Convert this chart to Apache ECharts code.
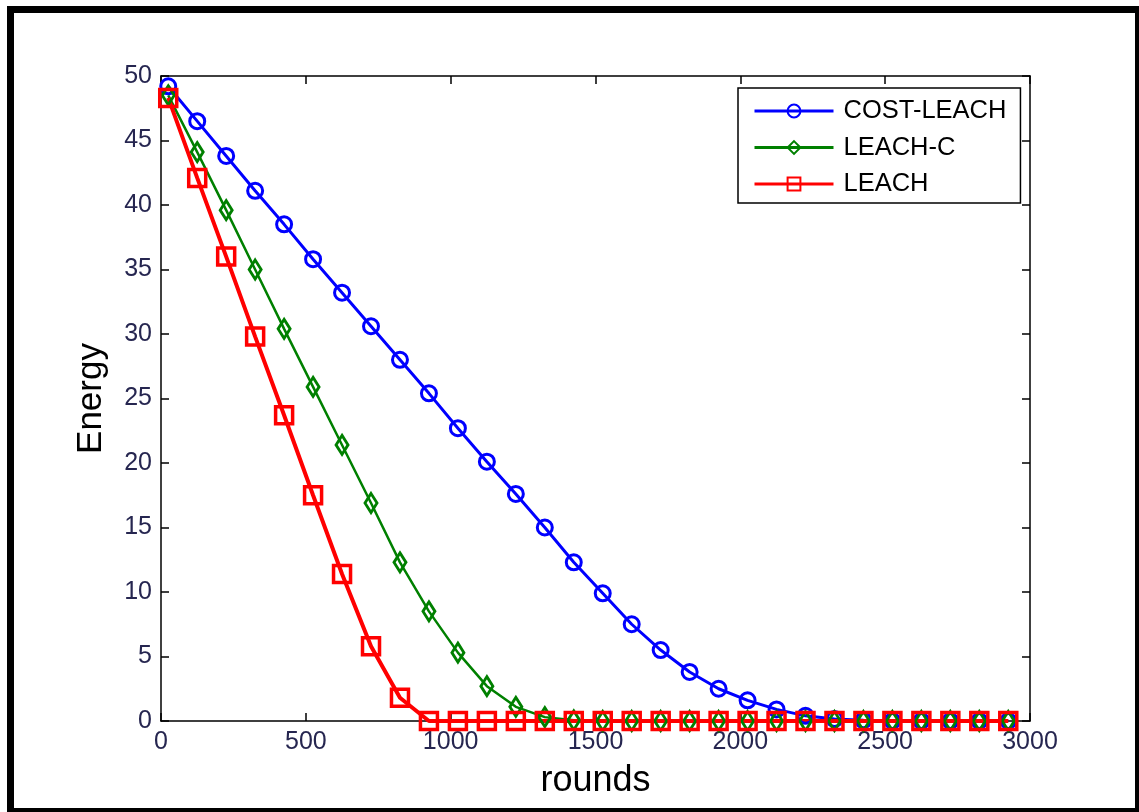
<!DOCTYPE html>
<html>
<head>
<meta charset="utf-8">
<script src="https://cdn.jsdelivr.net/npm/echarts@6/dist/echarts.min.js"></script>
<style>html,body{margin:0;padding:0;background:#fff}#c{width:1139px;height:812px}</style>
</head>
<body>
<div id="c"></div>
<script>
const rounds = [25,125,225,325,425,525,625,725,825,925,1025,1125,1225,1325,1425,1525,1625,1725,1825,1925,2025,2125,2225,2325,2425,2525,2625,2725,2825,2925];
const costLeach = [49.2,46.5,43.8,41.1,38.5,35.8,33.2,30.6,28.0,25.4,22.7,20.1,17.6,15.0,12.3,9.9,7.5,5.5,3.8,2.5,1.6,0.9,0.4,0.15,0.05,0,0,0,0,0];
const leachC = [48.5,44.1,39.6,35.0,30.4,25.9,21.4,16.9,12.3,8.5,5.3,2.7,1.1,0.3,0.05,0,0,0,0,0,0,0,0,0,0,0,0,0,0,0];
const leach = [48.3,42.1,36.0,29.8,23.7,17.5,11.4,5.8,1.8,0,0,0,0,0,0,0,0,0,0,0,0,0,0,0,0,0,0,0,0,0];
const seriesNames = ['COST-LEACH','LEACH-C','LEACH'];
const xTicks = {min:0, max:3000, interval:500};
const yTicks = {min:0, max:50, interval:5};

const pair = (ys) => rounds.map((x,i)=>[x, ys[i]]);
const FONT = 'Liberation Sans';
const labelColor = '#262650';

const chart = echarts.init(document.getElementById('c'));
const axisCommon = {
  axisLine:{show:true, onZero:false, lineStyle:{color:'#000', width:1.5}},
  axisTick:{show:true, inside:true, length:8, lineStyle:{color:'#000', width:1.5}},
  splitLine:{show:false}
};
chart.setOption({
  animation:false,
  backgroundColor:'#fff',
  grid:{left:161, right:109, top:76, bottom:91, containLabel:false},
  legend:{
    left:738, top:88, orient:'vertical',
    data:seriesNames,
    itemWidth:79, itemHeight:16, itemGap:10.5,
    padding:[10,14,6,15],
    borderColor:'#000', borderWidth:1.5, backgroundColor:'#fff',
    lineStyle:{width:3},
    textStyle:{fontFamily:FONT, fontSize:25.5, color:'#000', lineHeight:24, padding:[0,0,0,5]}
  },
  xAxis:[
    Object.assign({type:'value', position:'bottom', min:xTicks.min, max:xTicks.max, interval:xTicks.interval,
      name:'rounds', nameLocation:'middle', nameGap:42,
      nameTextStyle:{fontFamily:FONT, fontSize:36, color:'#000'},
      axisLabel:{fontFamily:FONT, fontSize:25, color:labelColor, margin:9, formatter:(v)=>String(v)}}, axisCommon),
    Object.assign({type:'value', position:'top', min:xTicks.min, max:xTicks.max, interval:xTicks.interval,
      axisLabel:{show:false}}, axisCommon)
  ],
  yAxis:[
    Object.assign({type:'value', position:'left', min:yTicks.min, max:yTicks.max, interval:yTicks.interval,
      name:'Energy', nameLocation:'middle', nameGap:52,
      nameTextStyle:{fontFamily:FONT, fontSize:35, color:'#000'},
      axisLabel:{fontFamily:FONT, fontSize:25, color:labelColor, margin:9, formatter:(v)=>String(v)}}, axisCommon),
    Object.assign({type:'value', position:'right', min:yTicks.min, max:yTicks.max, interval:yTicks.interval,
      axisLabel:{show:false}}, axisCommon)
  ],
  series:[
    {name:seriesNames[0], type:'line', data:pair(costLeach), symbol:'circle', symbolSize:15,
     color:'#0000ff', lineStyle:{color:'#0000ff', width:3},
     itemStyle:{color:'rgba(255,255,255,0)', borderColor:'#0000ff', borderWidth:3}},
    {name:seriesNames[1], type:'line', data:pair(leachC), symbol:'diamond', symbolSize:[12,19],
     color:'#008000', lineStyle:{color:'#008000', width:2.5},
     itemStyle:{color:'rgba(255,255,255,0)', borderColor:'#008000', borderWidth:3}},
    {name:seriesNames[2], type:'line', data:pair(leach), symbol:'rect', symbolSize:17,
     color:'#ff0000', lineStyle:{color:'#ff0000', width:4},
     itemStyle:{color:'rgba(255,255,255,0)', borderColor:'#ff0000', borderWidth:3.5}}
  ],
  graphic:[{type:'rect', silent:true, z:100,
    shape:{x:10.5, y:9.5, width:1128, height:802},
    style:{fill:'none', stroke:'#000', lineWidth:7}}]
});
</script>
</body>
</html>
